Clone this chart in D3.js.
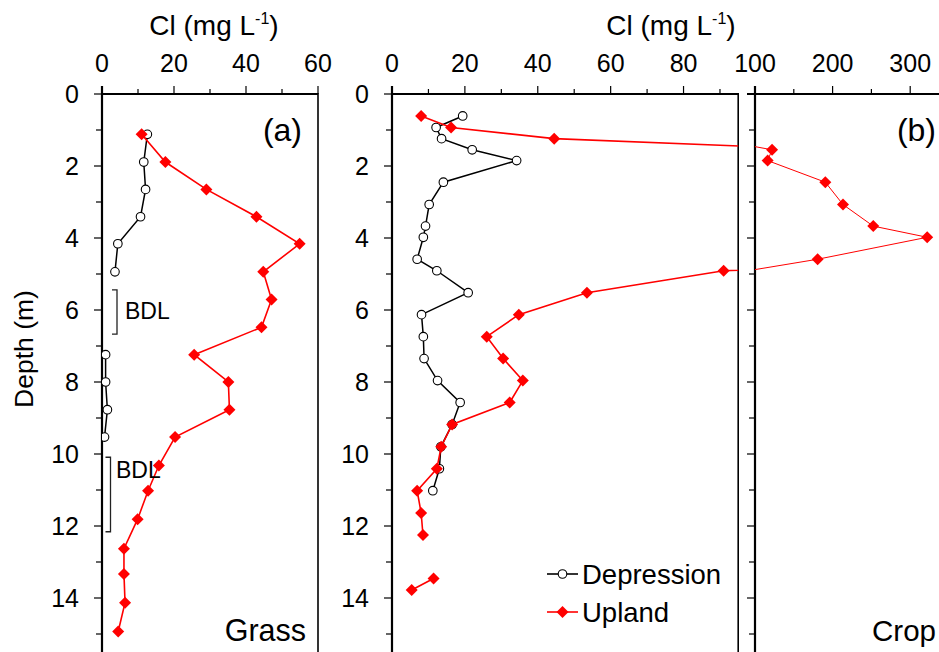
<!DOCTYPE html>
<html>
<head>
<meta charset="utf-8">
<script src="https://cdn.jsdelivr.net/npm/d3@7"></script>
<style>
html,body{margin:0;padding:0;background:#fff;}
svg{display:block;font-family:"Liberation Sans",Arial,sans-serif;}
</style>
</head>
<body>
<svg id="chart" width="939" height="652"></svg>
<script>
// ---------------- DATA ----------------
const grassDepth      = [1.12,1.89,2.65,3.41,4.16,4.94,5.71,6.48,7.24,8.00,8.77,9.53,10.32,11.02,11.81,12.63,13.33,14.13,14.93];
const grassUpland     = [11.0,17.6,29.0,42.9,54.9,44.8,47.1,44.3,25.6,35.1,35.4,20.3,15.8,12.8,9.9,6.1,6.1,6.4,4.5];
const grassDepression = [12.6,11.6,12.1,10.7,4.4,3.6,null,null,1.0,1.0,1.5,0.7,null,null,null,null,null,null,null];

const cropDepth       = [0.61,0.93,1.24,1.55,1.85,2.45,3.07,3.67,3.98,4.59,4.91,5.52,6.13,6.74,7.35,7.96,8.57,9.18,9.80,10.41,11.02,11.64,12.25,12.86,13.46,13.78];
const cropUpland      = [8.0,16.2,44.5,122,116.3,190.6,213.4,252.4,321.9,180.7,91.0,53.5,34.8,26.0,30.5,35.9,32.3,16.5,13.5,12.3,6.9,8.0,8.5,null,11.4,5.4];
const cropDepression  = [19.4,12.1,13.6,22.0,34.2,14.1,10.2,9.2,8.6,6.9,12.3,20.9,8.1,8.6,8.8,12.5,18.7,16.5,13.4,13.0,11.2,null,null,null,null,null];

const depthTicks   = [0,1,2,3,4,5,6,7,8,9,10,11,12,13,14,15,16];
const depthLabels  = [0,2,4,6,8,10,12,14];
const grassXTicks  = [0,10,20,30,40,50,60];
const grassXLabels = [0,20,40,60];
const cropXTicks1  = [0,10,20,30,40,50,60,70,80,90];
const cropXLabels1 = [0,20,40,60,80];
const cropXTicks2  = [100,150,200,250,300,350];
const cropXLabels2 = [100,200,300];
const bdlRanges    = [[5.44,6.67],[10.09,12.16]];
const seriesNames  = ["Depression","Upland"];

// ---------------- SCALES ----------------
const svg = d3.select("#chart");
const y = d3.scaleLinear().domain([0,16]).range([94,670]);
const xA  = d3.scaleLinear().domain([0,60]).range([102,318]);
const xB1 = d3.scaleLinear().domain([0,95]).range([392,738.2]);
const xB2 = d3.scaleLinear().domain([100,350]).range([755,949]);
const RED = "#ff0000";
const H = 652;

const defs = svg.append("defs");
function clip(id,x0,x1){
  defs.append("clipPath").attr("id",id).append("rect")
    .attr("x",x0).attr("y",y(0)).attr("width",x1-x0).attr("height",H-y(0)+20);
}
clip("cA",xA.range()[0],xA.range()[1]);
clip("cB1",xB1.range()[0],xB1.range()[1]);
clip("cB2",xB2.range()[0],xB2.range()[1]);

const diamond = "M0,-6L6,0L0,6L-6,0Z";

function drawSeries(x, depth, vals, opts){
  const g = svg.append("g").attr("clip-path","url(#"+opts.clip+")");
  const pts = depth.map((d,i)=>({d:d,v:vals[i]}));
  const line = d3.line().defined(p=>p.v!=null).x(p=>x(p.v)).y(p=>y(p.d));
  g.append("path").datum(pts).attr("d",line).attr("fill","none")
    .attr("stroke",opts.color).attr("stroke-width",opts.lw);
  const dom = x.domain();
  const shown = pts.filter(p=>p.v!=null && p.v>=dom[0]-1 && p.v<=dom[1]);
  if(opts.marker==="circle"){
    g.selectAll(null).data(shown).enter().append("circle")
      .attr("cx",p=>x(p.v)).attr("cy",p=>y(p.d)).attr("r",4.3)
      .attr("fill","#fff").attr("stroke","#000").attr("stroke-width",1.1);
  } else {
    g.selectAll(null).data(shown).enter().append("path")
      .attr("d",diamond).attr("transform",p=>"translate("+x(p.v)+","+y(p.d)+")")
      .attr("fill",RED);
  }
}

// ---------------- AXES ----------------
function topAxis(x, ticks, labels, x0, x1){
  const g = svg.append("g");
  g.append("line").attr("x1",x0).attr("x2",x1).attr("y1",y(0)).attr("y2",y(0))
    .attr("stroke","#000").attr("stroke-width",2);
  ticks.forEach(t=>{
    const major = labels.indexOf(t)>=0;
    g.append("line").attr("x1",x(t)).attr("x2",x(t)).attr("y1",y(0)).attr("y2",y(0)-(major?8:5))
      .attr("stroke","#000").attr("stroke-width",1.2);
  });
  labels.forEach(t=>{
    g.append("text").attr("x",x(t)).attr("y",72).attr("text-anchor","middle")
      .attr("font-size",25).text(t);
  });
}
function leftAxis(xpos, withLabels){
  const g = svg.append("g");
  g.append("line").attr("x1",xpos).attr("x2",xpos).attr("y1",y(0)-8).attr("y2",H+10)
    .attr("stroke","#000").attr("stroke-width",2.2);
  depthTicks.forEach(t=>{
    const major = depthLabels.indexOf(t)>=0;
    g.append("line").attr("x1",xpos).attr("x2",xpos-(major?8:6)).attr("y1",y(t)).attr("y2",y(t))
      .attr("stroke","#000").attr("stroke-width",1.2);
  });
  if(withLabels){
    depthLabels.forEach(t=>{
      g.append("text").attr("x",xpos-23).attr("y",y(t)).attr("dy","0.36em")
        .attr("text-anchor","end").attr("font-size",25).text(t);
    });
  }
}
function rightBorder(xpos){
  svg.append("line").attr("x1",xpos).attr("x2",xpos).attr("y1",y(0)-1).attr("y2",H+10)
    .attr("stroke","#000").attr("stroke-width",1.6);
}
function title(cx){
  const t = svg.append("text").attr("x",cx).attr("y",35).attr("text-anchor","middle").attr("font-size",28);
  t.append("tspan").text("Cl (mg L");
  t.append("tspan").attr("font-size",16).attr("dy",-11).text("-1");
  t.append("tspan").attr("dy",11).text(")");
}

// Panel (a)
topAxis(xA, grassXTicks, grassXLabels, xA.range()[0], xA.range()[1]);
leftAxis(xA.range()[0], true);
rightBorder(xA.range()[1]);
title(214);

// Panel (b) left
topAxis(xB1, cropXTicks1, cropXLabels1, xB1.range()[0], xB1.range()[1]);
leftAxis(xB1.range()[0], true);
rightBorder(xB1.range()[1]);
title(671);

// Panel (b) right
topAxis(xB2, cropXTicks2, cropXLabels2, xB2.range()[0]-8, 939);
leftAxis(xB2.range()[0], false);

// Y axis title
svg.append("text").attr("transform","translate(33,349) rotate(-90)")
  .attr("text-anchor","middle").attr("font-size",26.5).text("Depth (m)");

// ---------------- SERIES ----------------
drawSeries(xA, grassDepth, grassDepression, {clip:"cA", color:"#000", lw:1.5, marker:"circle"});
drawSeries(xA, grassDepth, grassUpland, {clip:"cA", color:RED, lw:1.6, marker:"diamond"});

drawSeries(xB1, cropDepth, cropDepression, {clip:"cB1", color:"#000", lw:1.5, marker:"circle"});
drawSeries(xB1, cropDepth, cropUpland, {clip:"cB1", color:RED, lw:1.6, marker:"diamond"});
drawSeries(xB2, cropDepth, cropUpland, {clip:"cB2", color:RED, lw:1, marker:"diamond"});

// BDL brackets
const bdlX = [[117,125],[110.5,116]];
bdlRanges.forEach((r,i)=>{
  const bx = bdlX[i][0];
  svg.append("path").attr("d","M"+(bx-5)+","+y(r[0])+"H"+bx+"V"+y(r[1])+"H"+(bx-5))
    .attr("fill","none").attr("stroke","#222").attr("stroke-width",1.3);
});
svg.append("text").attr("x",bdlX[0][1]).attr("y",319).attr("font-size",23).text("BDL");
svg.append("text").attr("x",bdlX[1][1]).attr("y",478).attr("font-size",23).text("BDL");

// Panel labels
svg.append("text").attr("x",302).attr("y",141).attr("text-anchor","end").attr("font-size",32).text("(a)");
svg.append("text").attr("x",306).attr("y",641).attr("text-anchor","end").attr("font-size",30.5).text("Grass");
svg.append("text").attr("x",936).attr("y",141).attr("text-anchor","end").attr("font-size",32).text("(b)");
svg.append("text").attr("x",936).attr("y",641).attr("text-anchor","end").attr("font-size",29.5).text("Crop");

// Legend
const lg = svg.append("g");
[574,612].forEach((ly,i)=>{
  lg.append("line").attr("x1",547).attr("x2",578).attr("y1",ly).attr("y2",ly)
    .attr("stroke",i===0?"#000":RED).attr("stroke-width",1.6);
  if(i===0){
    lg.append("circle").attr("cx",562.5).attr("cy",ly).attr("r",4.3)
      .attr("fill","#fff").attr("stroke","#000").attr("stroke-width",1.1);
  } else {
    lg.append("path").attr("d",diamond).attr("transform","translate(562.5,"+ly+")").attr("fill",RED);
  }
  lg.append("text").attr("x",582).attr("y",ly).attr("dy","0.36em").attr("font-size",27.5).text(seriesNames[i]);
});
</script>
</body>
</html>
